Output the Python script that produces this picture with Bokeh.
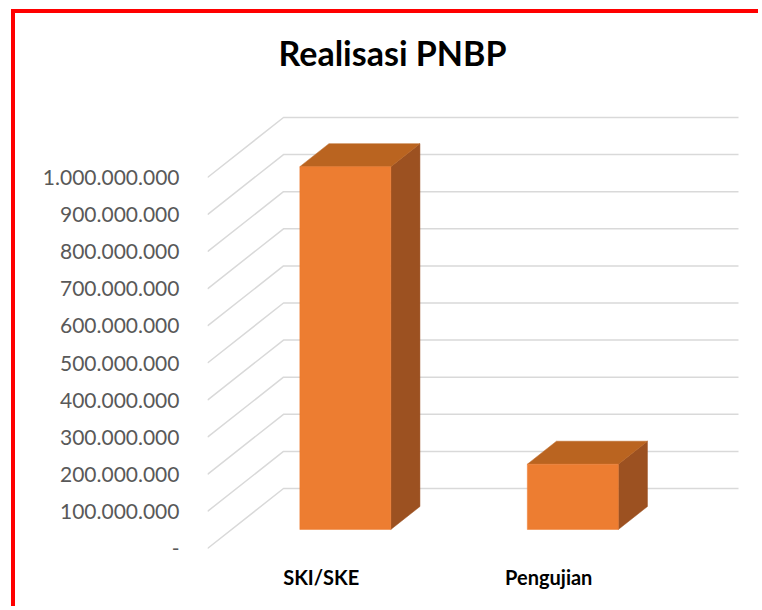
from bokeh.plotting import figure
from bokeh.models import FixedTicker, Range1d
from bokeh.embed import file_html
from bokeh.resources import INLINE
from bokeh.core.properties import value

# ---------------- data ----------------
categories = ["SKI/SKE", "Pengujian"]
realisasi = [978_000_000, 176_000_000]
tick_values = [0, 100_000_000, 200_000_000, 300_000_000, 400_000_000, 500_000_000,
               600_000_000, 700_000_000, 800_000_000, 900_000_000, 1_000_000_000]
tick_labels = ["-", "100.000.000", "200.000.000", "300.000.000", "400.000.000",
               "500.000.000", "600.000.000", "700.000.000", "800.000.000",
               "900.000.000", "1.000.000.000"]
chart_title = "Realisasi PNBP"

# ---------------- layout / style ----------------
OX, OY = 15, 13                       # canvas offset on the page (red frame + margin)
W, H = 762 - OX, 610 - OY
FRAME_LEFT_PAGE, FRAME_RIGHT_PAGE, FRAME_BOTTOM_PAGE = 207, 740, 552
BORDER_L = FRAME_LEFT_PAGE - OX
BORDER_R = W - (FRAME_RIGHT_PAGE - OX)
BORDER_T = 0
BORDER_B = H - (FRAME_BOTTOM_PAGE - OY)
PX_Y = 371 / 1e9          # pixels per value unit
PX_X = 227.5              # pixels per category slot
FRAME_W = W - BORDER_L - BORDER_R
FRAME_H = H - BORDER_T - BORDER_B
y_start = -4 / PX_Y
y_end = y_start + FRAME_H / PX_Y
x_start = 0.0
x_end = FRAME_W / PX_X

DX = 76 / PX_X            # 3D depth, horizontal (data units)
DY = 60 / PX_Y            # 3D depth, vertical (data units)
F0, F1 = 0.317, 0.70      # bar depth position (fraction of floor depth)
BAR_W = 0.4
FONT = "Lato"
GRID = "#D9D9D9"
C_FRONT, C_TOP, C_SIDE = "#ED7D31", "#BA6420", "#9C5121"

p = figure(width=W, height=H, output_backend="svg", toolbar_location=None,
           x_range=Range1d(x_start, x_end), y_range=Range1d(y_start, y_end),
           min_border_left=BORDER_L, min_border_right=BORDER_R,
           min_border_top=BORDER_T, min_border_bottom=BORDER_B)
p.outline_line_color = None
p.xgrid.visible = False
p.ygrid.visible = False
p.background_fill_color = "white"
p.border_fill_color = "white"
p.styles = {"margin-left": "11px", "margin-top": "9px",
            "border-left": "4px solid #FF0000", "border-top": "4px solid #FF0000"}

# walls' gridlines (left wall diagonal + back wall horizontal)
n_slots = len(categories)
gx, gy = [], []
for v in tick_values:
    gx.append([0, DX, n_slots + DX])
    gy.append([v, v + DY, v + DY])
p.multi_line(gx, gy, line_color=GRID, line_width=1.5)

# 3D bars
fx, fy, tx, ty, sx, sy = [], [], [], [], [], []
for i, v in enumerate(realisasi):
    c = i + 0.5
    x0 = c - BAR_W / 2 + F0 * DX
    x1 = c + BAR_W / 2 + F0 * DX
    b0 = F0 * DY
    dd = (F1 - F0) * DX
    dv = (F1 - F0) * DY
    fx.append([x0, x1, x1, x0]); fy.append([b0, b0, b0 + v, b0 + v])
    tx.append([x0, x1, x1 + dd, x0 + dd]); ty.append([b0 + v, b0 + v, b0 + v + dv, b0 + v + dv])
    sx.append([x1, x1 + dd, x1 + dd, x1]); sy.append([b0, b0 + dv, b0 + v + dv, b0 + v])
p.patches(sx, sy, fill_color=C_SIDE, line_color=C_SIDE, line_width=0.5)
p.patches(tx, ty, fill_color=C_TOP, line_color=C_TOP, line_width=0.5)
p.patches(fx, fy, fill_color=C_FRONT, line_color=C_FRONT, line_width=0.5)

# axes
yax = p.yaxis[0]
yax.ticker = FixedTicker(ticks=tick_values)
yax.major_label_overrides = {float(v): s for v, s in zip(tick_values, tick_labels)}
yax.axis_line_color = None
yax.major_tick_line_color = None
yax.minor_tick_line_color = None
yax.major_label_standoff = 22
yax.major_label_text_font = FONT
yax.major_label_text_font_size = "21px"
yax.major_label_text_color = "#595959"

xax = p.xaxis[0]
xax.ticker = FixedTicker(ticks=[i + 0.5 for i in range(n_slots)])
xax.major_label_overrides = {i + 0.5: s for i, s in enumerate(categories)}
xax.axis_line_color = None
xax.major_tick_line_color = None
xax.minor_tick_line_color = None
xax.major_label_standoff = 6
xax.major_label_text_font = FONT
xax.major_label_text_font_style = "bold"
xax.major_label_text_font_size = "20px"
xax.major_label_text_color = "#000000"

# title
p.text(x=[(392 - 207) / PX_X], y=[(548 - 52) / PX_Y], text=[chart_title],
       text_font=value(FONT), text_font_style="bold", text_font_size="34px",
       text_align="center", text_baseline="alphabetic", text_color="#000000")

open("out.html", "w").write(file_html(p, INLINE))
